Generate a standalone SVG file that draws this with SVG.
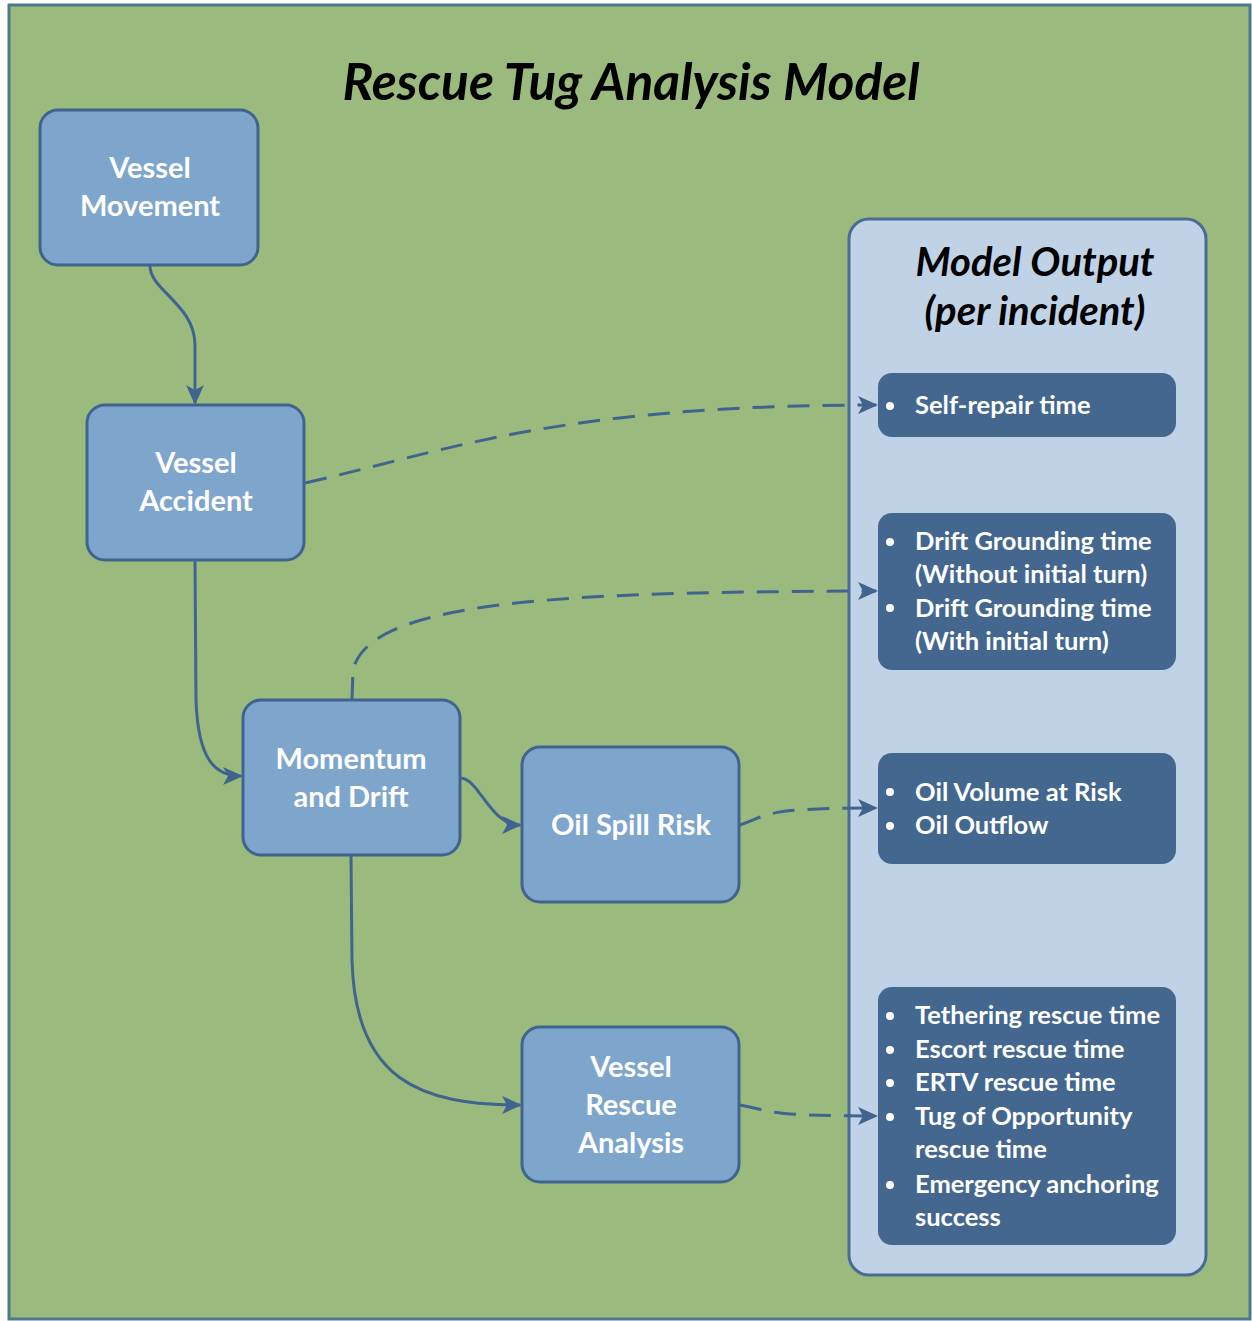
<svg xmlns="http://www.w3.org/2000/svg" width="1252" height="1321" viewBox="0 0 1252 1321">
<style>
text{font-family:Lato,"Open Sans","Liberation Sans",sans-serif;font-weight:bold}
.node{fill:#7ea6cd;stroke:#41648e;stroke-width:3}
.nt{fill:#fff;font-size:29px;text-anchor:middle}
.out{fill:#44678f}
.ot{fill:#fff;font-size:25.5px}
.ttl{font-style:italic;fill:#000;text-anchor:middle}
.c{fill:none;stroke:#41648e;stroke-width:3}
.d{fill:none;stroke:#41648e;stroke-width:3;stroke-dasharray:22 13}
</style>
<defs>
<marker id="ah" viewBox="0 0 20 20" refX="18" refY="10" markerWidth="20" markerHeight="20" markerUnits="userSpaceOnUse" orient="auto">
<path d="M0,1 L20,10 L0,19 L5,10 Z" fill="#41648e"/>
</marker>
</defs>
<rect x="9" y="5" width="1241" height="1314" fill="#9bbb7e" stroke="#4a7a8c" stroke-width="3"/>
<text class="ttl" x="631" y="100" font-size="51.5">Rescue Tug Analysis Model</text>
<g id="model-output">
<rect x="849" y="219" width="357" height="1056" rx="20" fill="#c0d3e6" stroke="#4a6b95" stroke-width="3"/>
<text class="ttl" x="1035" y="276" font-size="40">Model Output</text>
<text class="ttl" x="1035" y="325" font-size="40">(per incident)</text>
</g>
<g id="out1">
<rect class="out" x="878" y="373" width="298" height="64" rx="14"/>
<circle cx="890" cy="406" r="4" fill="#fff"/>
<text class="ot" x="915" y="414">Self-repair time</text>
</g>
<g id="out2">
<rect class="out" x="878" y="513" width="298" height="157" rx="14"/>
<circle cx="890" cy="542" r="4" fill="#fff"/>
<text class="ot" x="915" y="550">Drift Grounding time</text>
<text class="ot" x="915" y="583">(Without initial turn)</text>
<circle cx="890" cy="608" r="4" fill="#fff"/>
<text class="ot" x="915" y="617">Drift Grounding time</text>
<text class="ot" x="915" y="650">(With initial turn)</text>
</g>
<g id="out3">
<rect class="out" x="878" y="753" width="298" height="111" rx="14"/>
<circle cx="890" cy="792" r="4" fill="#fff"/>
<text class="ot" x="915" y="801">Oil Volume at Risk</text>
<circle cx="890" cy="826" r="4" fill="#fff"/>
<text class="ot" x="915" y="834">Oil Outflow</text>
</g>
<g id="out4">
<rect class="out" x="878" y="987" width="298" height="258" rx="14"/>
<circle cx="890" cy="1016" r="4" fill="#fff"/>
<text class="ot" x="915" y="1024">Tethering rescue time</text>
<circle cx="890" cy="1050" r="4" fill="#fff"/>
<text class="ot" x="915" y="1058">Escort rescue time</text>
<circle cx="890" cy="1083" r="4" fill="#fff"/>
<text class="ot" x="915" y="1091">ERTV rescue time</text>
<circle cx="890" cy="1117" r="4" fill="#fff"/>
<text class="ot" x="915" y="1125">Tug of Opportunity</text>
<text class="ot" x="915" y="1158">rescue time</text>
<circle cx="890" cy="1185" r="4" fill="#fff"/>
<text class="ot" x="915" y="1193">Emergency anchoring</text>
<text class="ot" x="915" y="1226">success</text>
</g>
<g id="connectors">
<path class="c" d="M150,266 C150,290 195,305 195,345 L195,403" marker-end="url(#ah)"/>
<path class="c" d="M195,561 L196,700 C198,760 215,776 241,776" marker-end="url(#ah)"/>
<path class="c" d="M461,778 C480,780 490,825 520,825" marker-end="url(#ah)"/>
<path class="c" d="M351,856 L352,960 C355,1080 420,1105 520,1105" marker-end="url(#ah)"/>
<path class="d" d="M305,483 C450,450 560,405 876,405" marker-end="url(#ah)"/>
<path class="d" d="M352,699 L353,670 C370,600 560,592 876,591" marker-end="url(#ah)"/>
<path class="d" d="M740,825 C770,815 760,808 876,808" marker-end="url(#ah)"/>
<path class="d" d="M740,1105 C770,1110 760,1116 876,1116" marker-end="url(#ah)"/>
</g>
<g id="vessel-movement">
<rect class="node" x="40" y="110" width="218" height="155" rx="18"/>
<text class="nt" x="150" y="178">Vessel</text>
<text class="nt" x="150" y="216">Movement</text>
</g>
<g id="vessel-accident">
<rect class="node" x="87" y="405" width="217" height="155" rx="18"/>
<text class="nt" x="196" y="473">Vessel</text>
<text class="nt" x="196" y="511">Accident</text>
</g>
<g id="momentum-drift">
<rect class="node" x="243" y="700" width="217" height="155" rx="18"/>
<text class="nt" x="351" y="769">Momentum</text>
<text class="nt" x="351" y="807">and Drift</text>
</g>
<g id="oil-spill">
<rect class="node" x="522" y="747" width="217" height="155" rx="18"/>
<text class="nt" x="631" y="835">Oil Spill Risk</text>
</g>
<g id="vessel-rescue">
<rect class="node" x="522" y="1027" width="217" height="155" rx="18"/>
<text class="nt" x="631" y="1077">Vessel</text>
<text class="nt" x="631" y="1115">Rescue</text>
<text class="nt" x="631" y="1153">Analysis</text>
</g>
</svg>
